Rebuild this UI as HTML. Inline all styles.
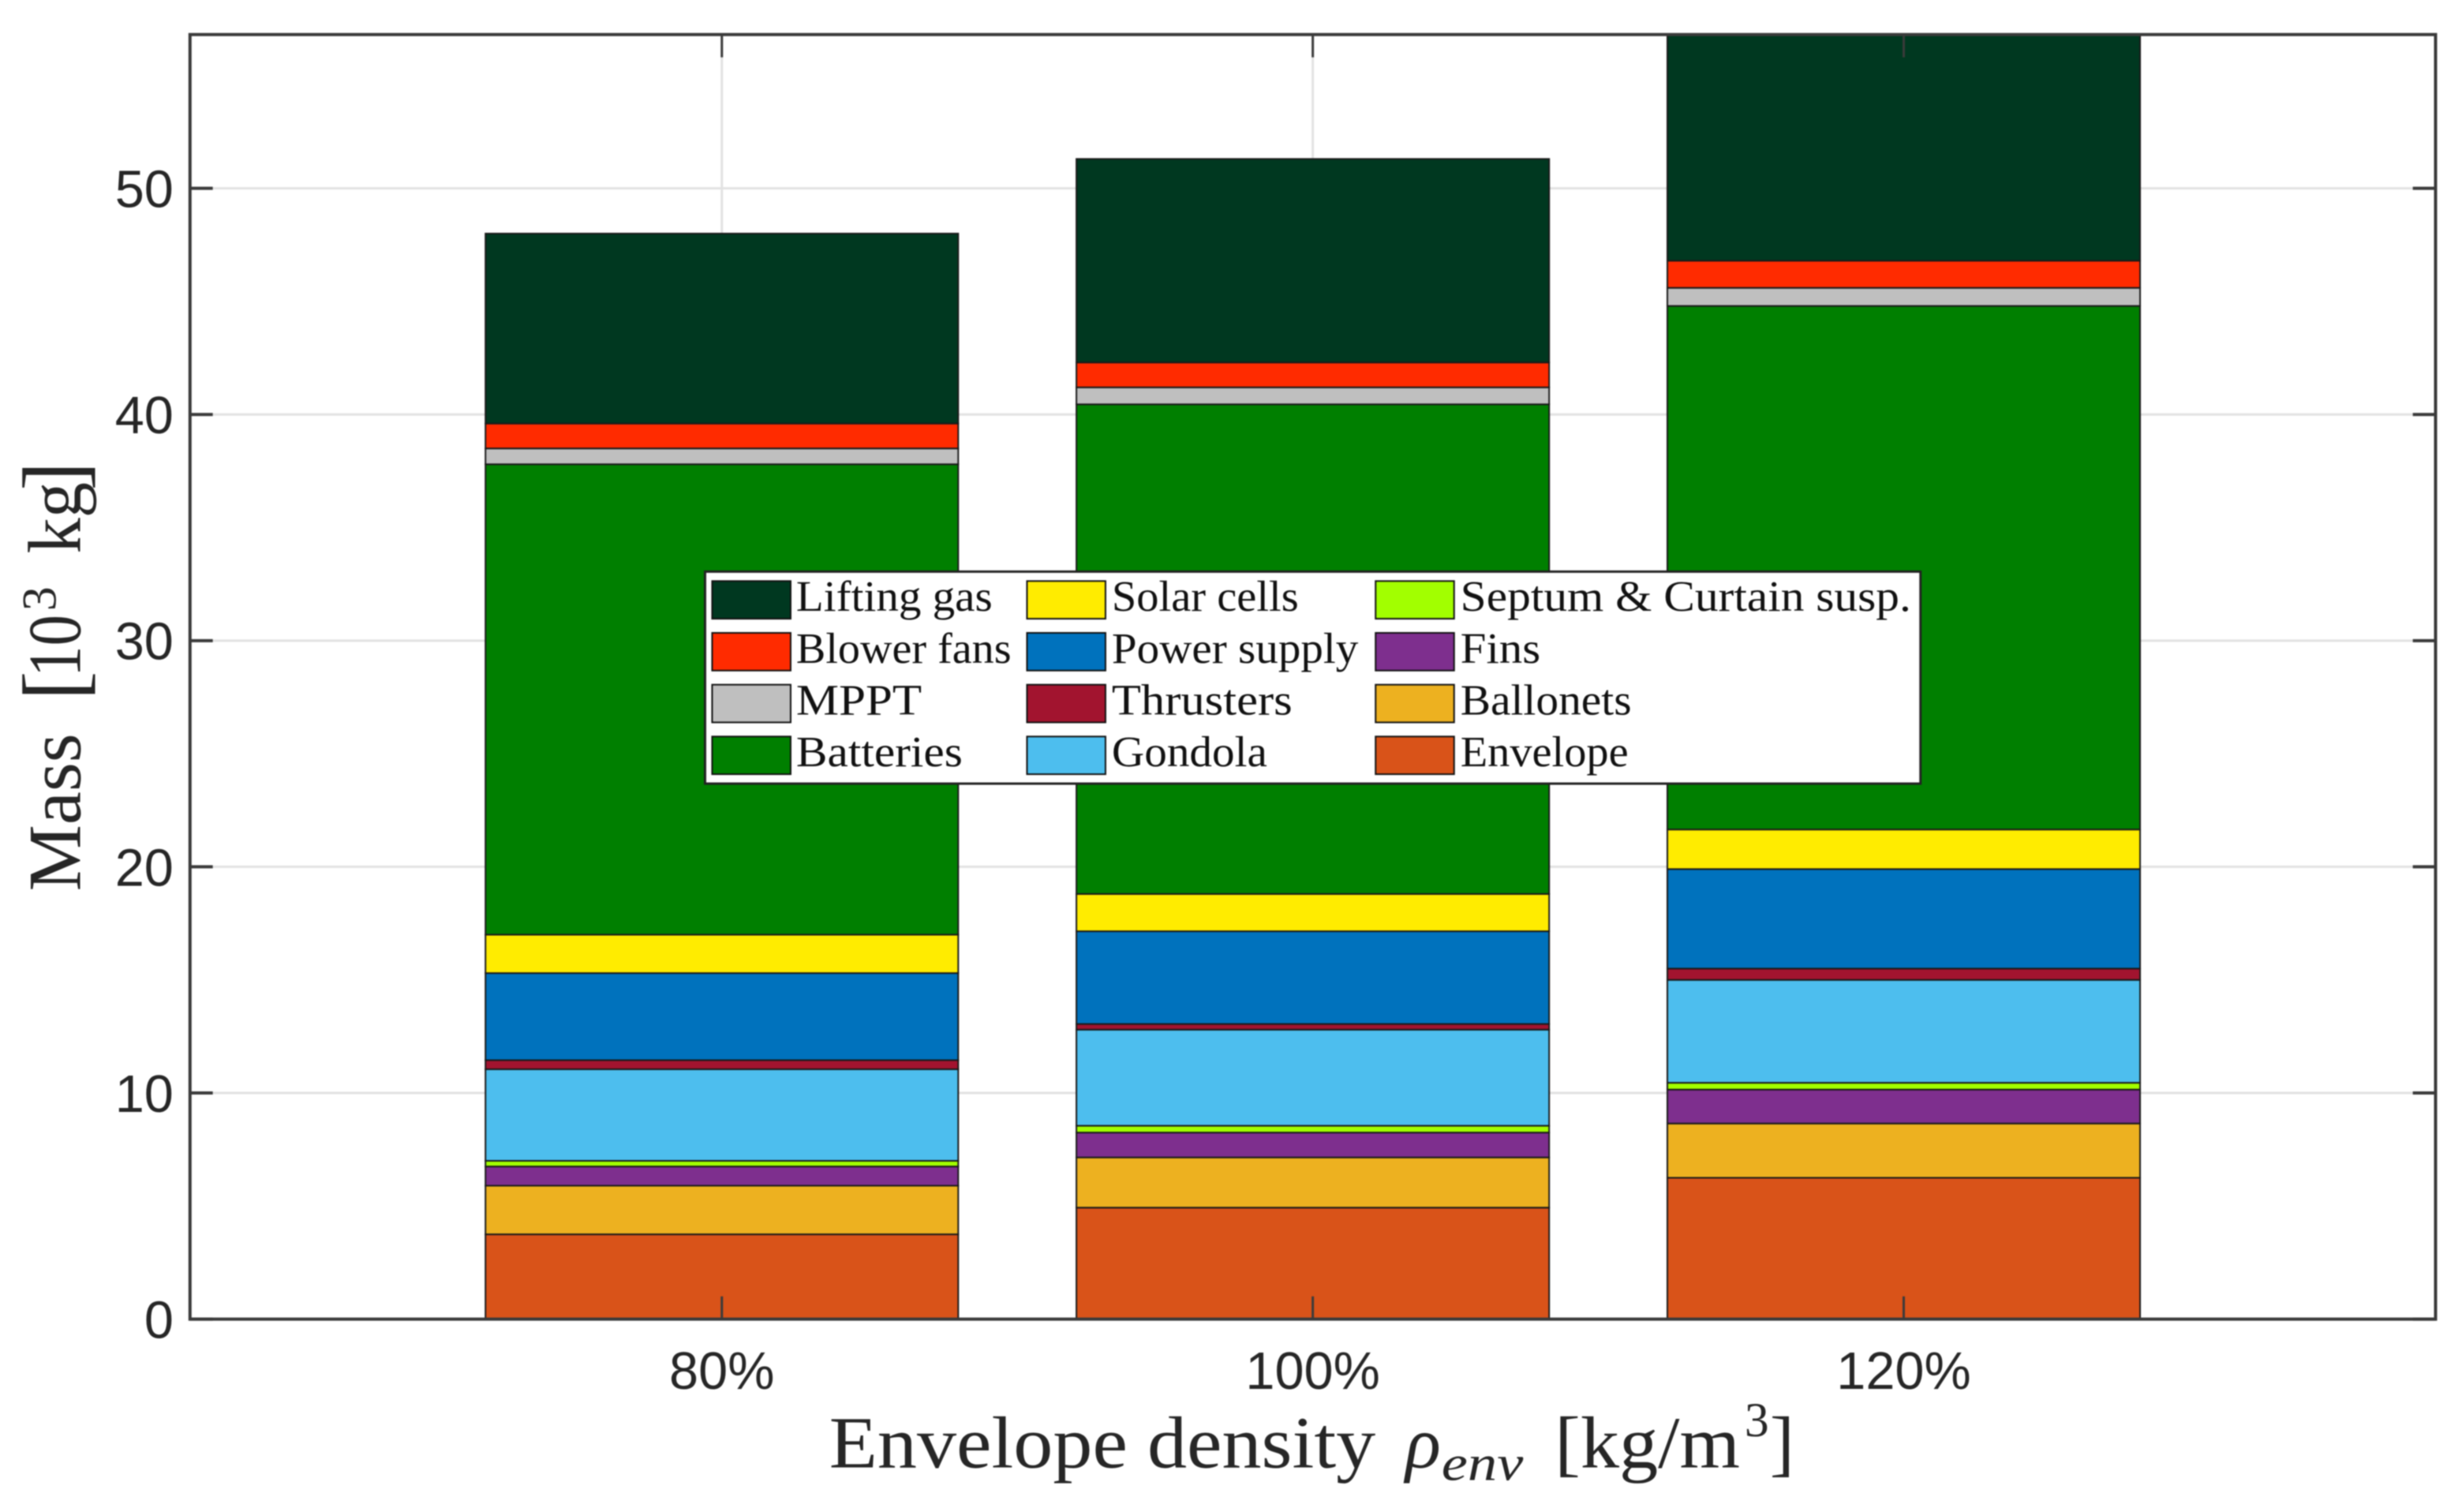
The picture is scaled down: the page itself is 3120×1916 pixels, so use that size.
<!DOCTYPE html>
<html lang="en">
<head>
<meta charset="utf-8">
<title>Mass breakdown by envelope density</title>
<style>
html,body{margin:0;padding:0;background:#fff;width:3120px;height:1916px;overflow:hidden}
svg{display:block;filter:blur(0.7px)}
.serif{font-family:"Liberation Serif",serif;fill:#262626}
.tick{font-family:"Liberation Sans",sans-serif;font-size:67px;fill:#262626}
.leg{font-family:"Liberation Serif",serif;font-size:55px;fill:#111}
.sw{stroke:#111;stroke-width:2}
</style>
</head>
<body>
<svg id="chart" xmlns="http://www.w3.org/2000/svg" width="3120" height="1916" viewBox="0 0 3135.68 1925.63">
  <defs><clipPath id="plot-clip"><rect x="242" y="44" width="2860" height="1636"/></clipPath></defs>
  <rect x="242" y="44" width="2860" height="1636" fill="#fff"/>
  <g id="grid"></g>
  <g id="bars" clip-path="url(#plot-clip)"></g>
  <g id="axes"></g>

  <g class="serif">
    <text x="1056" y="1869" font-size="94" textLength="696" lengthAdjust="spacingAndGlyphs">Envelope density</text>
    <text x="1790" y="1869" font-size="94" font-style="italic">ρ</text>
    <text x="1836" y="1885" font-size="64" font-style="italic" textLength="104" lengthAdjust="spacingAndGlyphs">env</text>
    <text x="1980" y="1869" font-size="94" textLength="236" lengthAdjust="spacingAndGlyphs">[kg/m</text>
    <text x="2222" y="1829" font-size="62">3</text>
    <text x="2254" y="1869" font-size="94">]</text>
  </g>

  <g class="serif" transform="translate(102 0) rotate(-90)">
    <text x="-1135" y="0" font-size="96" textLength="201" lengthAdjust="spacingAndGlyphs">Mass</text>
    <text x="-892" y="4" font-size="112">[</text>
    <text x="-862" y="0" font-size="96" textLength="79" lengthAdjust="spacingAndGlyphs">10</text>
    <text x="-778" y="-31" font-size="62">3</text>
    <text x="-705" y="0" font-size="96" textLength="91" lengthAdjust="spacingAndGlyphs">kg</text>
    <text x="-625" y="4" font-size="112">]</text>
  </g>

  <g>
    <rect x="898" y="728" width="1548" height="270" fill="#fff" stroke="#222" stroke-width="3"/>
    <g><rect class="sw" x="907" y="740" width="100" height="48" fill="#003820"/><text class="leg" x="1014" y="778" textLength="250" lengthAdjust="spacingAndGlyphs">Lifting gas</text></g>
    <g><rect class="sw" x="907" y="806" width="100" height="48" fill="#ff2b00"/><text class="leg" x="1014" y="844" textLength="274" lengthAdjust="spacingAndGlyphs">Blower fans</text></g>
    <g><rect class="sw" x="907" y="872" width="100" height="48" fill="#bfbfbf"/><text class="leg" x="1014" y="910" textLength="160" lengthAdjust="spacingAndGlyphs">MPPT</text></g>
    <g><rect class="sw" x="907" y="938" width="100" height="48" fill="#007f00"/><text class="leg" x="1014" y="976" textLength="212" lengthAdjust="spacingAndGlyphs">Batteries</text></g>
    <g><rect class="sw" x="1308" y="740" width="100" height="48" fill="#ffec00"/><text class="leg" x="1416" y="778" textLength="238" lengthAdjust="spacingAndGlyphs">Solar cells</text></g>
    <g><rect class="sw" x="1308" y="806" width="100" height="48" fill="#0072bd"/><text class="leg" x="1416" y="844" textLength="314" lengthAdjust="spacingAndGlyphs">Power supply</text></g>
    <g><rect class="sw" x="1308" y="872" width="100" height="48" fill="#a2142f"/><text class="leg" x="1416" y="910" textLength="230" lengthAdjust="spacingAndGlyphs">Thrusters</text></g>
    <g><rect class="sw" x="1308" y="938" width="100" height="48" fill="#4dbeee"/><text class="leg" x="1416" y="976" textLength="198" lengthAdjust="spacingAndGlyphs">Gondola</text></g>
    <g><rect class="sw" x="1752" y="740" width="100" height="48" fill="#a2ff00"/><text class="leg" x="1860" y="778" textLength="574" lengthAdjust="spacingAndGlyphs">Septum &amp; Curtain susp.</text></g>
    <g><rect class="sw" x="1752" y="806" width="100" height="48" fill="#7e2f8e"/><text class="leg" x="1860" y="844" textLength="102" lengthAdjust="spacingAndGlyphs">Fins</text></g>
    <g><rect class="sw" x="1752" y="872" width="100" height="48" fill="#edb120"/><text class="leg" x="1860" y="910" textLength="218" lengthAdjust="spacingAndGlyphs">Ballonets</text></g>
    <g><rect class="sw" x="1752" y="938" width="100" height="48" fill="#d95319"/><text class="leg" x="1860" y="976" textLength="214" lengthAdjust="spacingAndGlyphs">Envelope</text></g>
  </g>
</svg>

<script>
// Chart data (mass in 10^3 kg), one value per density category
const categories = ['80%', '100%', '120%'];
const yTicks = [0, 10, 20, 30, 40, 50];
const envelope = [3.75, 4.93, 6.25];
const ballonets = [2.15, 2.22, 2.40];
const fins = [0.85, 1.10, 1.50];
const septum = [0.25, 0.30, 0.30];
const gondola = [4.05, 4.25, 4.55];
const thrusters = [0.40, 0.25, 0.50];
const powerSupply = [3.85, 4.10, 4.40];
const solarCells = [1.70, 1.65, 1.75];
const batteries = [20.80, 21.65, 23.15];
const mppt = [0.70, 0.75, 0.80];
const blowerFans = [1.10, 1.10, 1.20];
const liftingGas = [8.40, 9.00, 11.00];

const stackOrder = [
  ['envelope', envelope, '#d95319'],
  ['ballonets', ballonets, '#edb120'],
  ['fins', fins, '#7e2f8e'],
  ['septum', septum, '#a2ff00'],
  ['gondola', gondola, '#4dbeee'],
  ['thrusters', thrusters, '#a2142f'],
  ['power-supply', powerSupply, '#0072bd'],
  ['solar-cells', solarCells, '#ffec00'],
  ['batteries', batteries, '#007f00'],
  ['mppt', mppt, '#bfbfbf'],
  ['blower-fans', blowerFans, '#ff2b00'],
  ['lifting-gas', liftingGas, '#003820']
];

const plot = {left: 242, right: 3102, top: 44, bottom: 1680};
const xMin = 0.1, xMax = 3.9, yMin = 0, yMax = 56.8, barWidth = 0.8;
const NS = 'http://www.w3.org/2000/svg';

function xScale(v) { return plot.left + (v - xMin) / (xMax - xMin) * (plot.right - plot.left); }
function yScale(v) { return plot.bottom - (v - yMin) / (yMax - yMin) * (plot.bottom - plot.top); }

function make(tag, attrs, parent) {
  const el = document.createElementNS(NS, tag);
  for (const k in attrs) el.setAttribute(k, attrs[k]);
  parent.appendChild(el);
  return el;
}

const gridG = document.getElementById('grid');
const barsG = document.getElementById('bars');
const axesG = document.getElementById('axes');

yTicks.forEach(function (t) {
  if (t === 0) return;
  const line = make('line', {x1: plot.left, x2: plot.right, y1: yScale(t), y2: yScale(t), stroke: '#e2e2e2', 'stroke-width': 3}, gridG);
  
  
});
categories.forEach(function (c, i) {
  const line = make('line', {x1: xScale(i + 1), x2: xScale(i + 1), y1: plot.top, y2: plot.bottom, stroke: '#e2e2e2', 'stroke-width': 3}, gridG);
  
  
});

categories.forEach(function (c, i) {
  let base = 0;
  stackOrder.forEach(function (s) {
    const top = base + s[1][i];
    const r = make('rect', {
      x: xScale(i + 1 - barWidth / 2),
      y: yScale(top),
      width: xScale(i + 1 + barWidth / 2) - xScale(i + 1 - barWidth / 2),
      height: yScale(base) - yScale(top),
      fill: s[2], stroke: '#1a1a1a', 'stroke-width': 2
    }, barsG);
    
    
    base = top;
  });
});

const frame = make('rect', {x: plot.left, y: plot.top, width: plot.right - plot.left, height: plot.bottom - plot.top, fill: 'none', stroke: '#3a3a3a', 'stroke-width': 4}, axesG);



yTicks.forEach(function (t) {
  const y = yScale(t);
  const tl = make('line', {x1: plot.left, x2: plot.left + 29, y1: y, y2: y, stroke: '#3a3a3a', 'stroke-width': 4}, axesG);
  
  
  const tr = make('line', {x1: plot.right - 29, x2: plot.right, y1: y, y2: y, stroke: '#3a3a3a', 'stroke-width': 4}, axesG);
  
  
  const label = make('text', {x: 221, y: y + 24, 'text-anchor': 'end', class: 'tick'}, axesG);
  label.textContent = String(t);
  
  
});

categories.forEach(function (c, i) {
  const x = xScale(i + 1);
  const bt = make('line', {x1: x, x2: x, y1: plot.bottom - 29, y2: plot.bottom, stroke: '#3a3a3a', 'stroke-width': 3}, axesG);
  
  
  const tt = make('line', {x1: x, x2: x, y1: plot.top, y2: plot.top + 29, stroke: '#3a3a3a', 'stroke-width': 3}, axesG);
  
  
  const label = make('text', {x: x, y: 1769, 'text-anchor': 'middle', class: 'tick'}, axesG);
  label.textContent = c;
  
  
});
</script>
</body>
</html>
